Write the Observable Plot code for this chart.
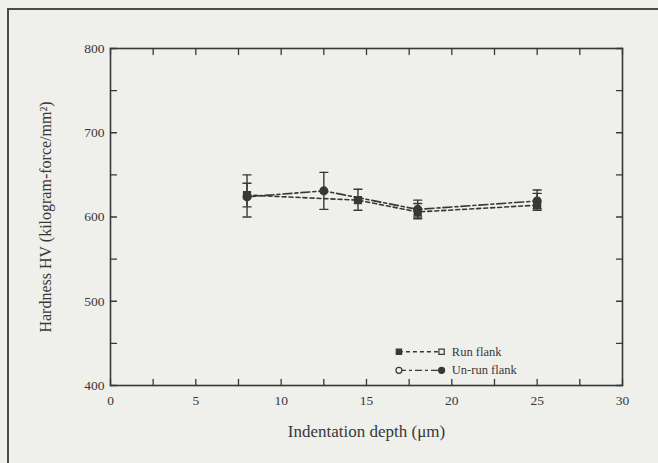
<!DOCTYPE html>
<html>
<head>
<meta charset="utf-8">
<script src="https://cdn.jsdelivr.net/npm/d3@7"></script>
<script src="https://cdn.jsdelivr.net/npm/@observablehq/plot@0.6"></script>
<style>
  html, body { margin: 0; padding: 0; background: #efefec; }
  #wrap { position: relative; width: 658px; height: 463px; overflow: hidden; }
  #box { position: absolute; left: 7px; top: 8px; right: -4px; bottom: -4px;
         border-left: 2px solid #4a4a4a; border-top: 2px solid #4a4a4a; }
  #chart { position: absolute; left: 0; top: 0; }
</style>
</head>
<body>
<div id="wrap"><div id="box"></div><div id="chart"></div></div>
<script>
// Indentation depth (µm) and Vickers hardness for the two flanks
const runDepth    = [8, 14.5, 18, 25];
const runHV       = [626, 620, 606, 614];
const runLow      = [612, 608, 598, 608];
const runHigh     = [640, 633, 616, 628];

const unrunDepth  = [8, 12.5, 18, 25];
const unrunHV     = [624, 631, 609, 619];
const unrunLow    = [600, 609, 600, 610];
const unrunHigh   = [650, 653, 620, 632];

// Axis ticks
const xLabels = [0, 5, 10, 15, 20, 25, 30];
const yLabels = [400, 500, 600, 700, 800];
const xTickMarks = d3.range(0, 30.01, 2.5);
const yTickMarks = d3.range(400, 800.01, 50);

const run = runDepth.map((x, i) => ({x, y: runHV[i], lo: runLow[i], hi: runHigh[i]}));
const unrun = unrunDepth.map((x, i) => ({x, y: unrunHV[i], lo: unrunLow[i], hi: unrunHigh[i]}));
const all = [...run, ...unrun];

const ink = "#383838";
const paper = "#efefec";
// plain straight stroke for tick marks and error-bar caps
const stick = {draw(context, l) { context.moveTo(0, 0); context.lineTo(0, -l); }};

const runDash = "4,3";
const unrunDash = "9,3,3,3";

// legend rows, placed in HV units inside the frame
const legRun = [{label: "Run flank", hv: 440}];
const legUnrun = [{label: "Un-run flank", hv: 418}];
const legX0 = 16.9, legX1 = 19.4, legText = 20.0;

const chart = Plot.plot({
  width: 658,
  height: 463,
  marginLeft: 110,
  marginRight: 36,
  marginTop: 48,
  marginBottom: 78,
  style: {background: "transparent", fontFamily: "'Liberation Serif', serif", fontSize: "13.5px", color: ink},
  x: {domain: [0, 30]},
  y: {domain: [400, 800]},
  marks: [
    Plot.frame({stroke: ink, strokeWidth: 1.6}),
    Plot.axisX(xLabels, {tickSize: 0, tickPadding: 10, label: null, fontSize: 13.5}),
    Plot.axisY(yLabels, {tickSize: 0, tickPadding: 6, label: null, fontSize: 13.5}),
    // inward tick marks on all four sides
    Plot.vector(xTickMarks, {x: d => d, y: 400, length: 6, rotate: 0, anchor: "start", shape: stick, stroke: ink, strokeWidth: 1.3}),
    Plot.vector(xTickMarks, {x: d => d, y: 800, length: 6, rotate: 180, anchor: "start", shape: stick, stroke: ink, strokeWidth: 1.3}),
    Plot.vector(yTickMarks, {x: 0, y: d => d, length: 6, rotate: 90, anchor: "start", shape: stick, stroke: ink, strokeWidth: 1.3}),
    Plot.vector(yTickMarks, {x: 30, y: d => d, length: 6, rotate: 270, anchor: "start", shape: stick, stroke: ink, strokeWidth: 1.3}),
    // axis titles
    Plot.text(["Indentation depth (μm)"], {frameAnchor: "bottom", dy: 51, text: d => d, fontSize: 17, fill: ink}),
    Plot.text(["Hardness HV (kilogram-force/mm²)"], {frameAnchor: "left", dx: -65, rotate: -90, textAnchor: "middle", text: d => d, fontSize: 16, fill: ink}),
    // series lines
    Plot.line(run, {x: "x", y: "y", stroke: ink, strokeWidth: 1.6, strokeDasharray: runDash}),
    Plot.line(unrun, {x: "x", y: "y", stroke: ink, strokeWidth: 1.6, strokeDasharray: unrunDash}),
    // error bars with caps
    Plot.ruleX(all, {x: "x", y1: "lo", y2: "hi", stroke: ink, strokeWidth: 1.4}),
    Plot.vector(all, {x: "x", y: "lo", length: 8, rotate: 90, anchor: "middle", shape: stick, stroke: ink, strokeWidth: 1.4}),
    Plot.vector(all, {x: "x", y: "hi", length: 8, rotate: 90, anchor: "middle", shape: stick, stroke: ink, strokeWidth: 1.4}),
    // markers
    Plot.dot(run, {x: "x", y: "y", symbol: "square", r: 3.8, fill: ink, stroke: ink}),
    Plot.dot(unrun, {x: "x", y: "y", symbol: "circle", r: 3.8, fill: ink, stroke: ink}),
    // legend
    Plot.link(legRun, {x1: legX0, x2: legX1, y1: "hv", y2: "hv", stroke: ink, strokeWidth: 1.4, strokeDasharray: runDash}),
    Plot.link(legUnrun, {x1: legX0, x2: legX1, y1: "hv", y2: "hv", stroke: ink, strokeWidth: 1.4, strokeDasharray: "7,3,3,3"}),
    Plot.dot(legRun, {x: legX0, y: "hv", symbol: "square", r: 3, fill: ink, stroke: ink, strokeWidth: 1.2}),
    Plot.dot(legRun, {x: legX1, y: "hv", symbol: "square", r: 3, fill: paper, stroke: ink, strokeWidth: 1.2}),
    Plot.dot(legUnrun, {x: legX0, y: "hv", symbol: "circle", r: 3, fill: paper, stroke: ink, strokeWidth: 1.2}),
    Plot.dot(legUnrun, {x: legX1, y: "hv", symbol: "circle", r: 3, fill: ink, stroke: ink, strokeWidth: 1.2}),
    Plot.text([...legRun, ...legUnrun], {x: legText, y: "hv", text: "label", textAnchor: "start", fontSize: 12.5, fill: ink})
  ]
});
document.getElementById("chart").append(chart);
</script>
</body>
</html>
